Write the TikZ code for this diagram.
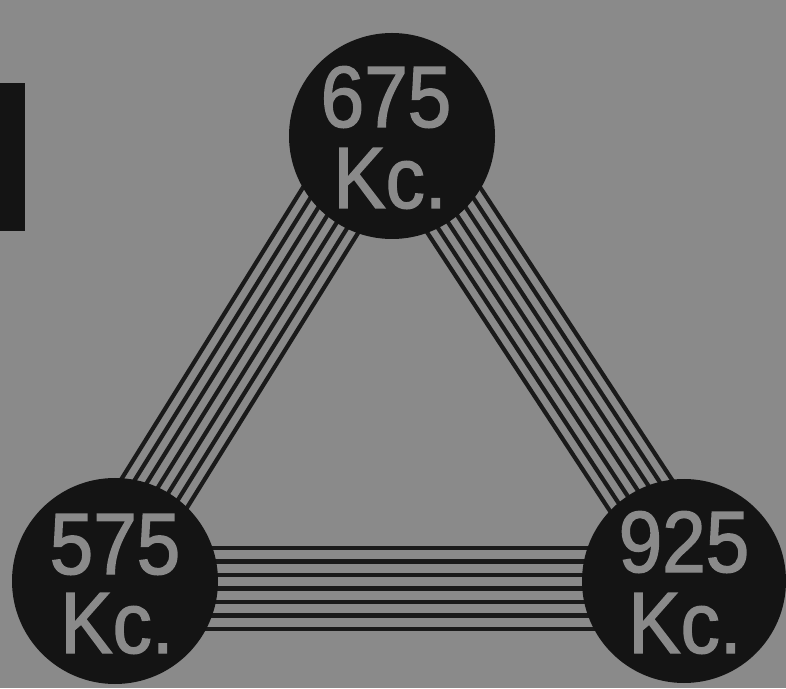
\documentclass[tikz,border=0pt]{standalone}
\usepackage{fontspec}
\newfontfamily\kcfont{Liberation Sans}[FakeStretch=0.9,FakeBold=1.6]
\usetikzlibrary{calc}
\definecolor{paper}{HTML}{8A8A8A}
\definecolor{ink}{HTML}{141414}
\definecolor{wire}{HTML}{1A1A1A}
\tikzset{
  station/.style={circle, fill=ink, draw=none, minimum size=#1, inner sep=0pt},
  freq/.style={text=paper, font=\kcfont\fontsize{87}{87}\selectfont, anchor=base, inner sep=0pt, text height=62pt, text depth=0pt},
  wireline/.style={draw=wire, line width=4.2pt}
}
\begin{document}
\begin{tikzpicture}[x=1pt,y=1pt]
  \fill[paper] (0,0) rectangle (786,688);
  \useasboundingbox (0,0) rectangle (786,688);
  % left black bar
  \fill[ink] (0,457) rectangle (25,605);
  % station centres
  \coordinate (ct) at (392,552);
  \coordinate (cl) at (115,107);
  \coordinate (cr) at (684,107);
  % wire bundles (drawn first, circles cover the ends)
  \foreach \d in {-48.4,-36.6,-24.8,-13,-1.2,10.6,22.4}
    \draw[wireline] ($(ct)!\d pt!90:(cl)$) -- ($(cl)!\d pt!-90:(ct)$);
  \foreach \d in {-23.5,-12,-0.5,11,22.5,34,45.5}
    \draw[wireline] ($(ct)!\d pt!90:(cr)$) -- ($(cr)!\d pt!-90:(ct)$);
  \foreach \d in {-48,-34.5,-21,-7.5,6,19.5,33}
    \draw[wireline] ($(cl)!\d pt!90:(cr)$) -- ($(cr)!\d pt!-90:(cl)$);
  % stations
  \node[station=206pt] (t) at (ct) {};
  \node[station=206pt] (l) at (cl) {};
  \node[station=204pt] (r) at (cr) {};
  % labels
  \node[freq] (t1) at ($(t.center)+(-6,9)$) {675};
  \node[freq] (t2) at ($(t.center)+(-2,-72)$) {Kc.};
  \node[freq] (l1) at ($(l.center)+(0,7)$) {575};
  \node[freq] (l2) at ($(l.center)+(2,-72)$) {Kc.};
  \node[freq] (r1) at ($(r.center)+(0,9)$) {925};
  \node[freq] (r2) at ($(r.center)+(1,-72)$) {Kc.};
\end{tikzpicture}
\end{document}
